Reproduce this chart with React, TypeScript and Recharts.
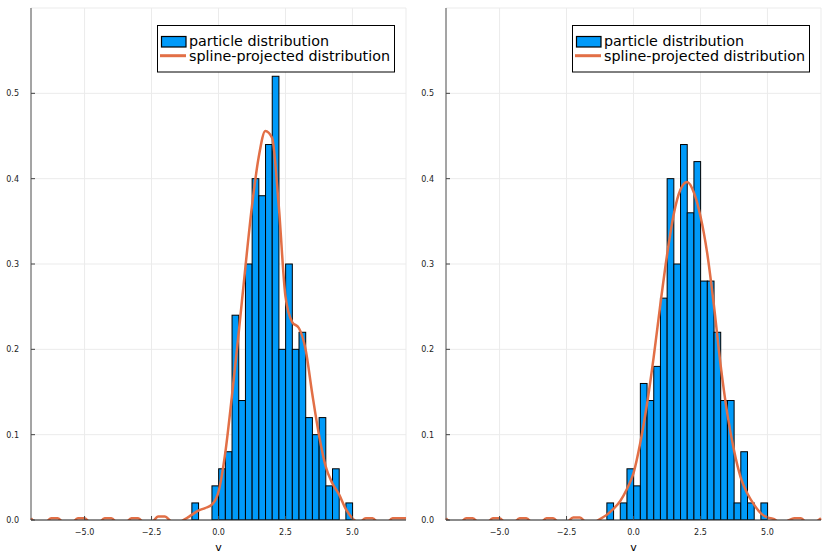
import React from 'react'
import { ComposedChart, Bar, Line, XAxis, YAxis, CartesianGrid, Legend } from 'recharts'

// histogram bins (width 0.25), centre of each bin
const binCenters = [
  -0.875, -0.625, -0.375, -0.125, 0.125, 0.375, 0.625, 0.875, 1.125, 1.375, 1.625, 1.875,
  2.125, 2.375, 2.625, 2.875, 3.125, 3.375, 3.625, 3.875, 4.125, 4.375, 4.625, 4.875,
]
const leftDensity = [
  0.02, 0, 0, 0.04, 0.06, 0.08, 0.24, 0.14, 0.3, 0.4, 0.38, 0.44,
  0.52, 0.2, 0.3, 0.2, 0.22, 0.12, 0.1, 0.12, 0.04, 0.06, 0, 0.02,
]
const rightDensity = [
  0.02, 0, 0.02, 0.06, 0.04, 0.16, 0.14, 0.18, 0.26, 0.4, 0.3, 0.44,
  0.36, 0.42, 0.28, 0.28, 0.22, 0.14, 0.14, 0.02, 0.08, 0.02, 0, 0.02,
]

// spline-projected curves, sampled every 0.25
const splineX = [
  -7, -6.75, -6.5, -6.25, -6, -5.75, -5.5, -5.25, -5, -4.75, -4.5, -4.25, -4, -3.75, -3.5, -3.25,
  -3, -2.75, -2.5, -2.25, -2, -1.75, -1.5, -1.25, -1, -0.75, -0.5, -0.25, 0, 0.25, 0.5, 0.75,
  1, 1.25, 1.5, 1.75, 2, 2.25, 2.5, 2.75, 3, 3.25, 3.5, 3.75, 4, 4.25, 4.5, 4.75,
  5, 5.25, 5.5, 5.75, 6, 6.25, 6.5, 6.75, 7,
]
const leftSpline = [
  0.002, -0.004, -0.004, 0.002, 0.002, -0.004, -0.004, 0.002, 0.002, -0.004, -0.004, 0.002, 0.002, -0.004, -0.004, 0.002,
  0.002, -0.004, -0.003, 0.004, 0.004, -0.002, -0.003, 0.001, 0.006, 0.011, 0.014, 0.018, 0.033, 0.078, 0.145, 0.218,
  0.295, 0.368, 0.425, 0.456, 0.448, 0.368, 0.262, 0.232, 0.225, 0.2, 0.148, 0.1, 0.063, 0.043, 0.03, 0.013,
  0.002, -0.003, 0.002, 0.002, -0.004, -0.004, 0.002, 0.002, 0.002,
]
const rightSpline = [
  0.002, -0.004, -0.004, 0.002, 0.002, -0.004, -0.004, 0.002, 0.002, -0.004, -0.004, 0.002, 0.002, -0.004, -0.004, 0.002,
  0.002, -0.004, -0.003, 0.003, 0.003, -0.003, -0.003, 0.001, 0.006, 0.013, 0.022, 0.036, 0.055, 0.09, 0.135, 0.19,
  0.252, 0.31, 0.358, 0.387, 0.396, 0.384, 0.356, 0.313, 0.252, 0.182, 0.125, 0.082, 0.05, 0.031, 0.018, 0.008,
  0.003, 0.001, -0.004, -0.001, 0.002, 0.002, -0.004, -0.003, 0.002,
]

const xTicks = [-5, -2.5, 0, 2.5, 5]
const yTicks = [0, 0.1, 0.2, 0.3, 0.4, 0.5]
const legendLabels = ['particle distribution', 'spline-projected distribution']

const BLUE = '#009AF9'
const ORANGE = '#E26F46'
const FONT = '"DejaVu Sans", sans-serif'
const W = 415
const H = 554
const PLOT_W = 375
const BAR_PX = (PLOT_W * 0.25) / 14

const fmt = (v: number) => v.toFixed(1).replace('-', '\u2212')

function XTick(props: any) {
  const { x, y, payload } = props
  const axisY = y - 9
  return (
    <g>
      <line x1={x} x2={x} y1={axisY} y2={axisY - 4} stroke="#444" />
      <text x={x} y={axisY + 15} textAnchor="middle" fontSize={8} fill="#222" fontFamily={FONT}>
        {fmt(payload.value)}
      </text>
    </g>
  )
}

function YTick(props: any) {
  const { x, y, payload } = props
  const axisX = x + 12
  return (
    <g>
      <line x1={axisX} x2={axisX + 4} y1={y} y2={y} stroke="#444" />
      <text x={axisX - 12} y={y + 3} textAnchor="end" fontSize={8} fill="#222" fontFamily={FONT}>
        {fmt(payload.value)}
      </text>
    </g>
  )
}

// full-width histogram bar, centred on the bin centre the scale gives
function HistBar(props: any) {
  const { x, y, width, height } = props
  if (!height || height <= 0) return null
  const cx = x + width / 2
  return (
    <rect x={cx - BAR_PX / 2} y={y} width={BAR_PX} height={height} fill={BLUE} stroke="#000" strokeWidth={1} />
  )
}

function LegendBox() {
  return (
    <svg width={238} height={48} style={{ display: 'block' }}>
      <rect x={0.5} y={0.5} width={237} height={46.5} fill="#fff" stroke="#000" />
      <rect x={4.5} y={11.5} width={24.5} height={10.5} fill={BLUE} stroke="#000" strokeWidth={1.2} />
      <line x1={3} x2={29} y1={30.7} y2={30.7} stroke={ORANGE} strokeWidth={3} />
      <text x={32} y={21} fontSize={14.3} fontFamily={FONT} fill="#000">{legendLabels[0]}</text>
      <text x={32} y={35.5} fontSize={14.3} fontFamily={FONT} fill="#000">{legendLabels[1]}</text>
    </svg>
  )
}

function Panel({ density, spline, left }: { density: number[]; spline: number[]; left: number }) {
  const bars = binCenters.map((x, i) => ({ x, density: density[i] }))
  const curve = splineX.map((x, i) => ({ x, value: spline[i] }))
  return (
    <div style={{ position: 'absolute', left, top: 0 }}>
      <ComposedChart width={W} height={H} data={bars} margin={{ top: 8, right: 9, bottom: 0, left: 0 }}>
        <CartesianGrid stroke="#ebebeb" />
        <XAxis
          type="number"
          dataKey="x"
          domain={[-7, 7]}
          ticks={xTicks}
          height={34}
          tickSize={0}
          tickMargin={9}
          tickLine={false}
          tick={<XTick />}
          axisLine={{ stroke: '#222' }}
          label={{ value: 'v', position: 'insideBottom', offset: 3, fontSize: 11, fill: '#000', fontFamily: FONT }}
        />
        <YAxis
          type="number"
          domain={[0, 0.6]}
          ticks={yTicks}
          allowDataOverflow
          width={31}
          tickSize={0}
          tickMargin={12}
          tickLine={false}
          tick={<YTick />}
          axisLine={{ stroke: '#555' }}
        />
        <Bar dataKey="density" fill={BLUE} shape={<HistBar />} isAnimationActive={false} />
        <Line
          data={curve}
          dataKey="value"
          type="monotone"
          stroke={ORANGE}
          strokeWidth={2.5}
          dot={false}
          activeDot={false}
          isAnimationActive={false}
        />
        <Legend
          layout="horizontal"
          verticalAlign="middle"
          align="center"
          width={238}
          height={48}
          wrapperStyle={{ left: 157, top: 25, width: 238, height: 48 }}
          content={() => <LegendBox />}
        />
      </ComposedChart>
    </div>
  )
}

export default function App() {
  return (
    <div style={{ position: 'absolute', left: 0, top: 0, width: 830, height: 554, background: '#fff', fontFamily: FONT }}>
      <Panel density={leftDensity} spline={leftSpline} left={0} />
      <Panel density={rightDensity} spline={rightSpline} left={415} />
    </div>
  )
}
